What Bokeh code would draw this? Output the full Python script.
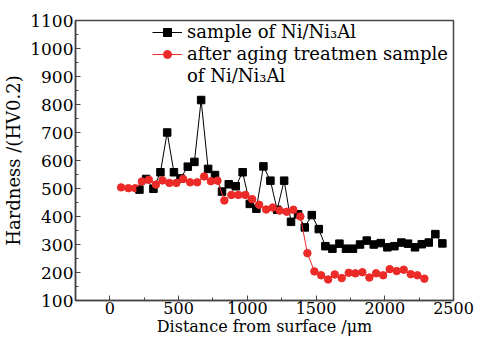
from bokeh.plotting import figure
from bokeh.models import Range1d, Legend, LegendItem, FixedTicker
from bokeh.embed import file_html
from bokeh.resources import INLINE

# Data
x_black = [215, 264, 317, 368, 417, 466, 514, 567, 615, 664, 715, 765, 816, 865, 916,
           966, 1018, 1066, 1117, 1168, 1217, 1268, 1318, 1369, 1418, 1469, 1520, 1568,
           1619, 1670, 1718, 1769, 1820, 1869, 1920, 1971, 2019, 2070, 2121, 2169, 2220,
           2269, 2320, 2368, 2419]
y_black = [496, 534, 499, 558, 700, 558, 536, 578, 595, 816, 570, 548, 489, 515, 508,
           558, 445, 428, 579, 528, 424, 528, 381, 408, 361, 405, 355, 294, 285, 303,
           285, 285, 300, 314, 300, 305, 290, 294, 307, 303, 290, 301, 307, 337, 304]
x_red = [82, 135, 184, 233, 284, 335, 383, 433, 484, 533, 584, 635, 686, 735, 783, 833,
         884, 935, 986, 1035, 1086, 1137, 1185, 1236, 1287, 1335, 1386, 1437, 1488, 1537,
         1588, 1636, 1687, 1738, 1786, 1837, 1888, 1937, 1988, 2036, 2087, 2138, 2189,
         2237, 2288]
y_red = [504, 501, 501, 525, 531, 514, 529, 520, 520, 534, 522, 522, 543, 526, 528, 457,
         477, 477, 477, 462, 442, 425, 432, 421, 417, 424, 400, 269, 204, 190, 175, 193,
         180, 199, 197, 201, 182, 197, 190, 212, 205, 210, 194, 190, 178]
x_ticks = [0, 500, 1000, 1500, 2000, 2500]
y_ticks = [100, 200, 300, 400, 500, 600, 700, 800, 900, 1000, 1100]
label_black = "sample of Ni/Ni\u2083Al"
label_red_1 = "after aging treatmen sample"
label_red_2 = "of Ni/Ni\u2083Al"

FONT = "DejaVu Serif"
RED = "#ec2a28"

p = figure(width=477, height=346, output_backend="svg", toolbar_location=None,
           x_range=Range1d(-250, 2500), y_range=Range1d(100, 1100),
           min_border_left=74, min_border_right=24, min_border_top=20, min_border_bottom=46)

lb = p.line(x_black, y_black, line_color="black", line_width=1)
sb = p.scatter(x_black, y_black, marker="square", size=7.5, fill_color="black", line_color="black")
lr = p.line(x_red, y_red, line_color=RED, line_width=1)
sr = p.scatter(x_red, y_red, marker="circle", size=7.5, fill_color=RED, line_color=RED)

# smaller legend markers (drawn on the first data point, hidden under the real marker)
leg_sq = p.scatter(x_black[:1], y_black[:1], marker="square", size=5, fill_color="black", line_color="black")
leg_ci = p.scatter(x_red[:1], y_red[:1], marker="circle", size=5.5, fill_color=RED, line_color=RED)
leg_blank = p.line([], [], line_alpha=0)

p.xgrid.visible = False
p.ygrid.visible = False
p.outline_line_color = "#444444"
p.outline_line_width = 1.5

for ax in (p.xaxis[0], p.yaxis[0]):
    ax.axis_line_color = "#444444"
    ax.axis_line_width = 1.5
    ax.major_tick_in = 5
    ax.major_tick_out = 0
    ax.minor_tick_in = 3
    ax.minor_tick_out = 0
    ax.major_tick_line_color = "#444444"
    ax.minor_tick_line_color = "#444444"
    ax.major_label_text_font = FONT
    ax.major_label_text_font_size = "16px"
    ax.major_label_text_color = "black"
    ax.axis_label_text_font = FONT
    ax.axis_label_text_font_size = "16px"
    ax.axis_label_text_font_style = "normal"
    ax.axis_label_text_color = "black"

p.yaxis.axis_label_text_font_size = "18px"
p.yaxis.major_label_text_font_size = "17px"
p.xaxis.ticker = FixedTicker(ticks=x_ticks, minor_ticks=[-250, 250, 750, 1250, 1750, 2250])
p.yaxis.ticker = FixedTicker(ticks=y_ticks, minor_ticks=[150 + 100 * i for i in range(10)])
p.xaxis.axis_label = "Distance from surface /\u03bcm"
p.yaxis.axis_label = "Hardness /(HV0.2)"
p.xaxis.major_label_standoff = 1
p.xaxis.axis_label_standoff = 0
p.yaxis.major_label_standoff = 2
p.yaxis.axis_label_standoff = 3

legend = Legend(items=[LegendItem(label=label_black, renderers=[lb, leg_sq]),
                       LegendItem(label=label_red_1, renderers=[lr, leg_ci]),
                       LegendItem(label=label_red_2, renderers=[leg_blank])],
                location=(73, 210))
legend.border_line_alpha = 0
legend.background_fill_alpha = 0
legend.label_text_font = FONT
legend.label_text_font_size = "18px"
legend.label_text_line_height = 1.05
legend.label_text_color = "black"
legend.glyph_width = 30
legend.glyph_height = 20
legend.label_standoff = 5
legend.spacing = 1
legend.padding = 4
legend.margin = 0
legend.label_height = 18
p.add_layout(legend)

open("out.html", "w").write(file_html(p, INLINE))
